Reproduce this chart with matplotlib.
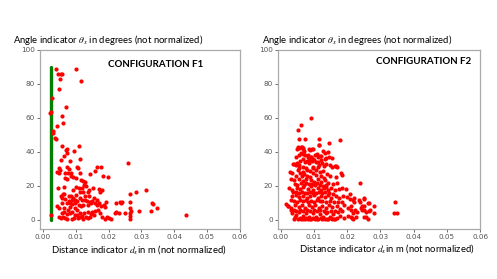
import matplotlib
matplotlib.use("Agg")
import matplotlib.pyplot as plt

# configuration F1: (distance d_x [m], angle theta_x [deg])
f1_points = [
    (0.0041, 88.9), (0.0102, 88.5), (0.0047, 86), (0.0054, 86), (0.0057, 86), (0.0117, 81.6), (0.0053, 83),
    (0.0048, 76.8), (0.0028, 71.5), (0.0071, 66.4), (0.0025, 63.5), (0.0021, 62.6), (0.0059, 61.2),
    (0.0061, 56.7), (0.0042, 55.3), (0.0032, 52.4), (0.0031, 51), (0.0037, 48), (0.0040, 47.7),
    (0.0058, 43.2), (0.0109, 43.5), (0.0072, 41.7), (0.0070, 41), (0.0073, 39.5), (0.0095, 40.3),
    (0.0063, 37.6), (0.0113, 35.7), (0.0055, 35.3), (0.0082, 34.5),
    (0.0048, 30.2), (0.0053, 29.4), (0.0072, 31), (0.0103, 31.3), (0.0106, 30.6), (0.0042, 28.2),
    (0.0050, 27.8), (0.0068, 27.6), (0.0075, 27.6), (0.0078, 29.8), (0.0085, 27.6), (0.0114, 27.8),
    (0.0164, 31.3), (0.0177, 31), (0.0160, 28.6), (0.0144, 26.7), (0.0182, 25.9), (0.0197, 25.1), (0.0259, 33.3),
    (0.0086, 25.5), (0.0093, 25.1), (0.0101, 24.7), (0.0067, 24.7), (0.0072, 24), (0.0115, 23.6),
    (0.0123, 22.8), (0.0128, 22), (0.0124, 20.5), (0.0131, 19.6),
    (0.0047, 18.9), (0.0063, 19.3), (0.0102, 19.3), (0.0111, 18.5), (0.0120, 18.5), (0.0091, 17.7),
    (0.0153, 18.5), (0.0172, 18.1), (0.0180, 17.3), (0.0175, 16.5), (0.0141, 17.3), (0.0136, 16.1),
    (0.0060, 15), (0.0065, 15.4), (0.0113, 16.5), (0.0123, 16.1), (0.0102, 14.6), (0.0079, 14.2),
    (0.0086, 13.8), (0.0129, 14), (0.0139, 13.8),
    (0.0068, 12.3), (0.0093, 12.6), (0.0098, 11.9), (0.0105, 11.1), (0.0142, 10.7), (0.0150, 11.1),
    (0.0072, 10), (0.0082, 10), (0.0090, 9.2), (0.0097, 10), (0.0058, 9.9),
    (0.0109, 8.8), (0.0115, 8.2), (0.0123, 8.8), (0.0044, 8), (0.0048, 6.8), (0.0065, 6.8), (0.0075, 6),
    (0.0083, 7.2), (0.0099, 6.8), (0.0103, 5.7),
    (0.0136, 8.8), (0.0146, 10), (0.0159, 10), (0.0165, 8.8), (0.0171, 9.6), (0.0178, 8.2), (0.0185, 8.8),
    (0.0188, 7.2), (0.0191, 10.3),
    (0.0224, 10), (0.0234, 10.3), (0.0238, 9.6), (0.0242, 10.7), (0.0265, 15), (0.0264, 10.7),
    (0.0283, 16.5), (0.0313, 17.3), (0.0333, 9.9), (0.0334, 9.2), (0.0347, 6.8), (0.0328, 5.3),
    (0.0293, 5.3), (0.0436, 2.5),
    (0.0265, 6.8), (0.0267, 5.3), (0.0265, 3.7), (0.0264, 2.2), (0.0266, 0.6), (0.0249, 4.1),
    (0.0224, 4.4), (0.0231, 4.1), (0.0219, 3.7),
    (0.0194, 1.6), (0.0201, 0.8), (0.0206, 0.6), (0.0180, 1.4), (0.0188, 0.6), (0.0174, 4.1),
    (0.0169, 5.5), (0.0160, 5.3), (0.0150, 4.4),
    (0.0136, 0.8), (0.0142, 1.6), (0.0130, 1.6), (0.0113, 1.6), (0.0121, 0.6), (0.0107, 0.8),
    (0.0089, 0.6), (0.0095, 0.8), (0.0068, 0.8), (0.0074, 0.6), (0.0062, 1.6), (0.0050, 1.6), (0.0055, 0.8),
    (0.0058, 3.7), (0.0064, 4.4), (0.0072, 3.3), (0.0082, 3.7), (0.0090, 4.4), (0.0098, 2.9),
    (0.0113, 4.1), (0.0125, 3.7), (0.0136, 4.4), (0.0146, 3.3), (0.0155, 2.9), (0.0105, 2.9), (0.0120, 2.1),
    (0.0025, 2.9), (0.0054, 14.2), (0.0058, 12.8), (0.0079, 11.1), (0.0087, 11.9), (0.0113, 12.6),
    (0.0120, 11.5), (0.0128, 11.9), (0.0134, 11.1), (0.0156, 12.6), (0.0164, 11.9),
]

# the green reference series in F1 (constant distance)
f1_green_dist = [0.0026, 0.0026]
f1_green_angle = [0, 90]

# configuration F2
f2_points = [
    (0.0090, 60), (0.0060, 55.5), (0.0053, 52.6), (0.0055, 47.7), (0.0072, 47.7), (0.0114, 47.7),
    (0.0178, 46.8), (0.0145, 45), (0.0114, 44.2), (0.0054, 42.5), (0.0064, 42.7), (0.0050, 41.5),
    (0.0066, 41.5), (0.0070, 40.5), (0.0088, 41.1), (0.0094, 41.5), (0.0127, 40.7), (0.0133, 39.2),
    (0.0143, 39.9), (0.0108, 38.8), (0.0117, 37.6), (0.0060, 39.2), (0.0068, 38.8), (0.0074, 38),
    (0.0082, 36.8), (0.0090, 37.2), (0.0098, 36), (0.0135, 36.3), (0.0145, 36.8), (0.0153, 36.3),
    (0.0040, 32.7), (0.0048, 33.3), (0.0056, 32.2), (0.0078, 34.3), (0.0086, 33.3), (0.0107, 34.1),
    (0.0115, 32.5), (0.0123, 33.3), (0.0131, 31.8), (0.0137, 32.9), (0.0163, 31.8), (0.0169, 31.3),
    (0.0068, 31), (0.0076, 30.2), (0.0096, 30.6),
    (0.0051, 42.7), (0.0061, 43), (0.0068, 42.3), (0.0086, 41.5), (0.0096, 41.9), (0.0115, 43.9),
    (0.0046, 37.2), (0.0056, 38), (0.0066, 39.2), (0.0082, 38), (0.0092, 37.2), (0.0102, 38.4),
    (0.0111, 36.8), (0.0122, 37.6), (0.0132, 36), (0.0147, 32.5), (0.0155, 31.3), (0.0165, 31.8),
    (0.0037, 32.9), (0.0046, 32.2), (0.0027, 28.2), (0.0035, 27.5), (0.0052, 29), (0.0058, 27.5),
    (0.0068, 28.2), (0.0078, 29.4), (0.0088, 28.7), (0.0096, 27.5), (0.0107, 29.4), (0.0117, 28.2),
    (0.0127, 28.7), (0.0139, 26.7), (0.0147, 25.5), (0.0182, 27.5), (0.0184, 26.3), (0.0165, 25.1),
    (0.0239, 21.6), (0.0030, 24), (0.0040, 23.6), (0.0056, 24), (0.0066, 22.8), (0.0076, 24.2),
    (0.0091, 23.6), (0.0101, 22.5), (0.0111, 24), (0.0122, 22.5), (0.0132, 23.2), (0.0142, 21.6),
    (0.0157, 21.2), (0.0169, 21.6), (0.0025, 18.5), (0.0034, 17.7), (0.0048, 18.9), (0.0058, 18.1),
    (0.0068, 19.3), (0.0081, 18.1), (0.0091, 19.6), (0.0098, 17.7), (0.0111, 18.9), (0.0120, 17.7),
    (0.0129, 18.5), (0.0141, 17.7), (0.0151, 18.9), (0.0163, 17.7), (0.0175, 18.1), (0.0184, 18.5),
    (0.0196, 18.1), (0.0035, 13.8), (0.0046, 14.6), (0.0056, 13.4), (0.0068, 14.2), (0.0078, 12.6),
    (0.0088, 13.8), (0.0101, 14.6), (0.0111, 13), (0.0122, 14.2), (0.0132, 13.4), (0.0142, 14.6),
    (0.0152, 13), (0.0165, 13.8), (0.0175, 12.6), (0.0188, 14.2), (0.0198, 13.4), (0.0208, 12.3),
    (0.0220, 12.6), (0.0236, 11.9), (0.0249, 12.6), (0.0264, 9.9), (0.0281, 8.0), (0.0344, 10.7),
    (0.0342, 3.7), (0.0350, 3.7), (0.0023, 8), (0.0031, 6.8), (0.0017, 9.5), (0.0044, 8.8),
    (0.0054, 7.2), (0.0064, 8.4), (0.0074, 6.8), (0.0084, 8.8), (0.0094, 7.2), (0.0104, 8.4),
    (0.0115, 6.8), (0.0125, 8), (0.0135, 6.8), (0.0145, 8.4), (0.0155, 7.2), (0.0168, 8),
    (0.0178, 6.4), (0.0190, 8.8), (0.0202, 6.8), (0.0212, 8), (0.0222, 5.7), (0.0241, 6.8),
    (0.0249, 8), (0.0230, 4.4), (0.0257, 4.4), (0.0265, 5.3), (0.0035, 4.1), (0.0046, 2.9),
    (0.0056, 4.4), (0.0066, 2.3), (0.0076, 4.1), (0.0086, 1.8), (0.0096, 3.7), (0.0107, 1.6),
    (0.0117, 3.3), (0.0127, 1.6), (0.0137, 3.7), (0.0147, 1.8), (0.0157, 3.3), (0.0169, 1.2),
    (0.0179, 2.3), (0.0191, 0.8), (0.0202, 2.3), (0.0214, 0.8), (0.0227, 1.6),
    (0.0041, 0.6), (0.0052, 0.2), (0.0062, 0.6), (0.0072, 0.2), (0.0082, 0.6), (0.0092, 0.2),
    (0.0102, 0.6), (0.0113, 0.2), (0.0123, 0.6), (0.0133, 0.2), (0.0143, 0.6), (0.0153, 0.2), (0.0163, 0.6),
    (0.0267, 9.9), (0.0269, 6.0), (0.0281, 4.1), (0.0249, 12.3), (0.0245, 8), (0.0243, 6),
    (0.0251, 5.6), (0.0238, 10.7), (0.0264, 0.6), (0.0249, 1.8), (0.0255, 1.8), (0.0218, 0.2),
    (0.0210, 1.8), (0.0216, 4.1), (0.0210, 6), (0.0216, 11.9), (0.0220, 10.7), (0.0208, 15),
    (0.0021, 8),
    (0.0045, 26), (0.0055, 30.5), (0.0063, 25.5), (0.0071, 27), (0.0080, 26), (0.0089, 25.4),
    (0.0097, 30.8), (0.0105, 26.4), (0.0113, 31.2), (0.0121, 25.8), (0.0129, 24.6), (0.0137, 20.4),
    (0.0042, 21), (0.0050, 20.2), (0.0060, 21.6), (0.0069, 20.6), (0.0077, 21.8), (0.0085, 20.8),
    (0.0094, 21.2), (0.0103, 20.2), (0.0110, 21.4), (0.0118, 20.6), (0.0126, 20.1), (0.0136, 19.4),
    (0.0038, 16.5), (0.0047, 16.2), (0.0054, 15.8), (0.0063, 16.6), (0.0072, 16.0), (0.0080, 15.6),
    (0.0088, 16.4), (0.0097, 16.0), (0.0106, 15.8), (0.0115, 16.3), (0.0124, 15.6), (0.0133, 16.2),
    (0.0145, 15.8), (0.0158, 15.4),
    (0.0032, 11.5), (0.0041, 11.2), (0.0049, 10.6), (0.0058, 11.4), (0.0066, 10.8), (0.0075, 11.6),
    (0.0083, 10.4), (0.0092, 11.0), (0.0100, 10.6), (0.0108, 11.4), (0.0117, 10.8), (0.0125, 11.2),
    (0.0135, 10.4), (0.0147, 10.8), (0.0160, 10.2), (0.0172, 10.6), (0.0183, 10.2),
    (0.0030, 5.5), (0.0039, 6.0), (0.0047, 5.4), (0.0058, 5.8), (0.0068, 5.0), (0.0079, 5.6),
    (0.0089, 5.2), (0.0099, 5.8), (0.0109, 5.0), (0.0119, 5.6), (0.0130, 5.2), (0.0140, 4.8),
    (0.0150, 5.4), (0.0162, 5.0), (0.0173, 4.6), (0.0185, 4.9),
    (0.0044, 1.4), (0.0057, 1.0), (0.0067, 0.4), (0.0077, 1.2), (0.0087, 0.4), (0.0097, 1.0),
    (0.0110, 0.4), (0.0120, 1.2), (0.0138, 0.6), (0.0150, 1.2), (0.0160, 0.6),
    (0.0058, 34.8), (0.0066, 35.6), (0.0074, 33.8), (0.0084, 35.2), (0.0093, 34.6), (0.0101, 35.4),
    (0.0112, 34.2), (0.0120, 35.0),
]

x_ticks = [0.00, 0.01, 0.02, 0.03, 0.04, 0.05, 0.06]
y_ticks = [0, 20, 40, 60, 80, 100]
titles = ["CONFIGURATION F1", "CONFIGURATION F2"]
ylabel = r"Angle indicator $\theta_x$ in degrees (not normalized)"
xlabel = r"Distance indicator $d_x$in m (not normalized)"

plt.rcParams["mathtext.fontset"] = "stix"
lab_font = ["Lato", "DejaVu Sans"]

fig = plt.figure(figsize=(4.97, 2.79), dpi=100, facecolor="white")
ax1 = fig.add_axes([0.0805, 0.179, 0.402, 0.642])
ax2 = fig.add_axes([0.559, 0.179, 0.407, 0.642])

ax1.plot(f1_green_dist, f1_green_angle, color="green", lw=2.4, solid_capstyle="round", zorder=2)
ax1.scatter([p[0] for p in f1_points], [p[1] for p in f1_points], s=9, c="red", linewidths=0, zorder=3)
ax2.scatter([p[0] for p in f2_points], [p[1] for p in f2_points], s=9, c="red", linewidths=0, zorder=3)

for ax in (ax1, ax2):
    ax.set_xlim(-0.0009, 0.06)
    ax.set_ylim(-5.5, 100)
    ax.set_xticks(x_ticks)
    ax.set_xticklabels(["%.2f" % t for t in x_ticks])
    ax.set_yticks(y_ticks)
    ax.tick_params(labelsize=5.2, colors="#555555", length=2, width=0.6, pad=1.5)
    for sp in ax.spines.values():
        sp.set_color("#aaaaaa")
        sp.set_linewidth(0.9)

ax1.text(0.815, 0.92, titles[0], transform=ax1.transAxes, ha="right", va="center",
         fontsize=7, fontweight="bold", family=lab_font)
ax2.text(0.955, 0.935, titles[1], transform=ax2.transAxes, ha="right", va="center",
         fontsize=7, fontweight="bold", family=lab_font)

fig.text(13 / 497, 1 - 40 / 279, ylabel, ha="left", va="center", fontsize=6.8, family=lab_font)
fig.text(262 / 497, 1 - 40 / 279, ylabel, ha="left", va="center", fontsize=6.8, family=lab_font)
fig.text(51 / 497, 1 - 250 / 279, xlabel, ha="left", va="center", fontsize=6.8, family=lab_font)
fig.text(299 / 497, 1 - 249 / 279, xlabel, ha="left", va="center", fontsize=6.8, family=lab_font)

fig.savefig("out.png", dpi=100)
